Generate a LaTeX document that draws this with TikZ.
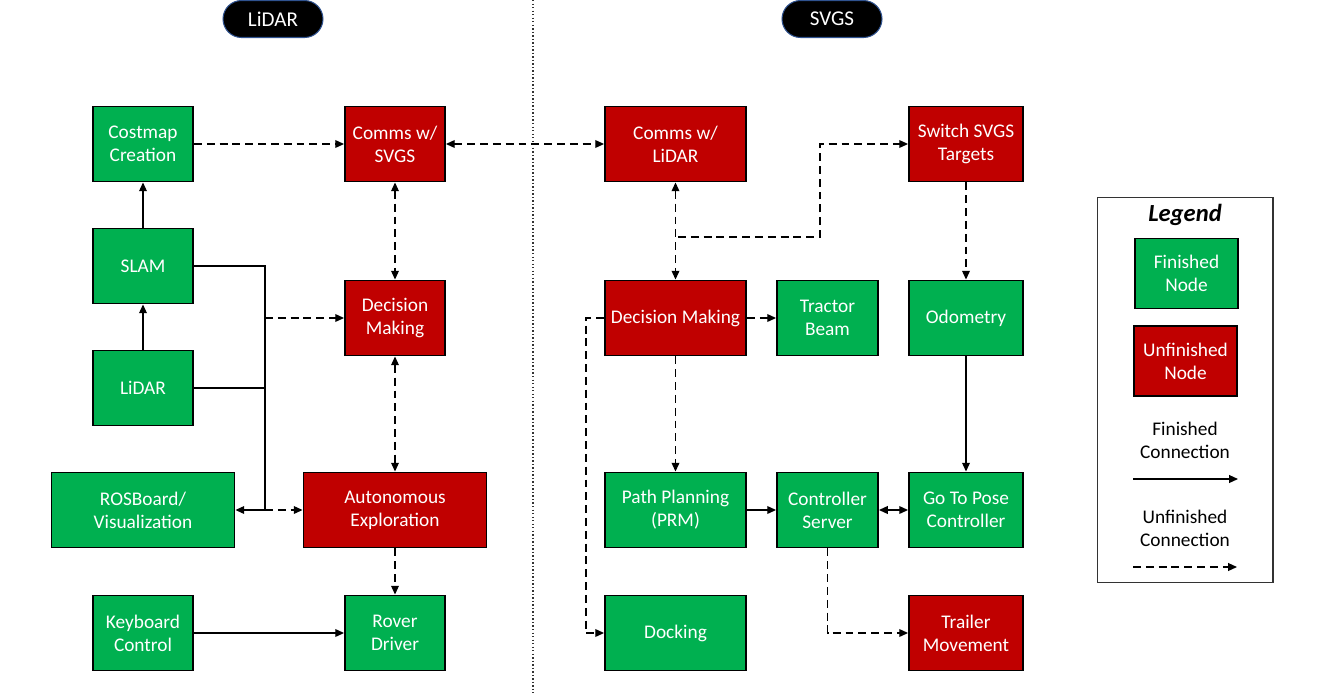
\documentclass[tikz,border=0pt]{standalone}
\usepackage{fontspec}
\setmainfont{Carlito}
\usetikzlibrary{arrows.meta}
\usetikzlibrary{calc}

\definecolor{donegreen}{HTML}{00B050}
\definecolor{todored}{HTML}{C00000}
\definecolor{pillrim}{HTML}{2F528F}

\begin{document}
\begin{tikzpicture}[x=0.02cm, y=-0.02cm, line width=0.75pt,
  block/.style={draw=black, line width=1.1pt, text=white, align=center, inner sep=0pt,
                minimum height=1.5cm, font=\fontsize{11}{13.1}\selectfont},
  fin/.style={block, fill=donegreen},
  unfin/.style={block, fill=todored},
  pill/.style={fill=black, draw=pillrim, line width=0.6pt, rounded corners=0.37cm, text=white,
               minimum width=2cm, minimum height=0.74cm, inner sep=0pt, font=\fontsize{12}{14}\selectfont},
  wip/.style={dash pattern=on 4.5pt off 2.8pt},
  legtext/.style={align=center, font=\fontsize{11}{13.1}\selectfont},
  >={Triangle[length=5pt,width=4.4pt]}]

\useasboundingbox (0,0) rectangle (1329,693);

%%%%%%%%%%%% headers
\node[pill] (hl) at (273,19) {LiDAR};
\node[pill] (hs) at (832,19) {SVGS};
\draw[black!80, line width=0.6pt, dash pattern=on 0.8pt off 1.2pt] (533,0) -- (533,693);

%%%%%%%%%%%% LiDAR side
\node[fin, minimum width=2cm]    (cost) at (143,144) {Costmap\\Creation};
\node[fin, minimum width=2cm]    (slam) at (143,266) {SLAM};
\node[fin, minimum width=2cm]    (lid)  at (143,388) {LiDAR};
\node[fin, minimum width=3.66cm] (ros)  at (143,510) {ROSBoard/\\Visualization};
\node[fin, minimum width=2cm]    (key)  at (143,633) {Keyboard\\Control};
\node[unfin, minimum width=2cm]  (csv)  at (395,144) {Comms w/\\SVGS};
\node[unfin, minimum width=2cm]  (dml)  at (395,318) {Decision\\Making};
\node[unfin, minimum width=3.66cm] (auto) at (395,510) {Autonomous\\Exploration};
\node[fin, minimum width=2cm]    (rov)  at (395,633) {Rover\\Driver};

%%%%%%%%%%%% SVGS side
\node[unfin, minimum width=2.82cm] (cli)  at (675.5,144) {Comms w/\\LiDAR};
\node[unfin, minimum width=2.28cm] (sw)   at (966,144) {Switch SVGS\\Targets};
\node[unfin, minimum width=2.82cm] (dmr)  at (675.5,318) {Decision Making};
\node[fin, minimum width=2.02cm]   (tb)   at (827.5,318) {Tractor\\Beam};
\node[fin, minimum width=2.28cm]   (odo)  at (966,318) {Odometry};
\node[fin, minimum width=2.82cm]   (pp)   at (675.5,510) {Path Planning\\(PRM)};
\node[fin, minimum width=2.02cm]   (cs)   at (827.5,510) {Controller\\Server};
\node[fin, minimum width=2.28cm]   (gtp)  at (966,510) {Go To Pose\\Controller};
\node[fin, minimum width=2.82cm]   (dock) at (675.5,633) {Docking};
\node[unfin, minimum width=2.28cm] (trl)  at (966,633) {Trailer\\Movement};

\coordinate (jA) at (265,510);
\coordinate (jB) at (678,237);
\coordinate (jC) at (820,237);
\coordinate (jD) at (586,318);

%%%%%%%%%%%% finished connections
\draw[->] (slam) -- (cost);
\draw[->] (lid) -- (slam);
\draw[->] (slam.east) -| (jA) -- (ros);
\draw (lid.east) -- (lid.east -| jA);
\draw[->] (key) -- (rov);
\draw[->] (pp) -- (cs);
\draw[<->] (cs) -- (gtp);
\draw[->] (odo) -- (gtp);

%%%%%%%%%%%% unfinished connections
\draw[wip, ->] (cost) -- (csv);
\draw[wip, <->] (csv) -- (cli);
\draw[wip, <->] (csv) -- (dml);
\draw[wip, <->] (dml) -- (auto);
\draw[wip, ->] (dml -| jA) -- (dml);
\draw[wip, ->] (jA) -- (auto);
\draw[wip, ->] (auto) -- (rov);
\draw[wip, <->] (cli) -- (dmr);
\draw[wip, ->] (jB) -- (jC) |- (sw);
\draw[wip, ->] (sw) -- (odo);
\draw[wip, ->] (dmr) -- (tb);
\draw[wip, ->] (dmr) -- (pp);
\draw[wip, ->] (dmr) -- (jD) |- (dock);
\draw[wip, ->] (cs) |- (trl);

%%%%%%%%%%%% legend
\node[draw=black!80, line width=0.6pt, minimum width=3.52cm, minimum height=7.72cm, inner sep=0pt] (leg) at (1185,390) {};
\node[font=\fontsize{14}{16}\selectfont\bfseries\itshape] (legt) at (1185,215) {Legend};
\node[fin, minimum width=2.06cm, minimum height=1.4cm]   (lfin) at (1186.5,273.5) {Finished\\Node};
\node[unfin, minimum width=2.06cm, minimum height=1.4cm] (lunf) at (1185.5,361) {Unfinished\\Node};
\node[legtext] (lfc) at (1185,440) {Finished\\Connection};
\node[legtext] (luc) at (1185,528) {Unfinished\\Connection};
\coordinate (la1) at (1133,479);
\coordinate (la2) at (1238,479);
\coordinate (lb1) at (1133,567);
\coordinate (lb2) at (1237,567);
\draw[->] (la1) -- (la2);
\draw[wip, ->] (lb1) -- (lb2);
\end{tikzpicture}
\end{document}
